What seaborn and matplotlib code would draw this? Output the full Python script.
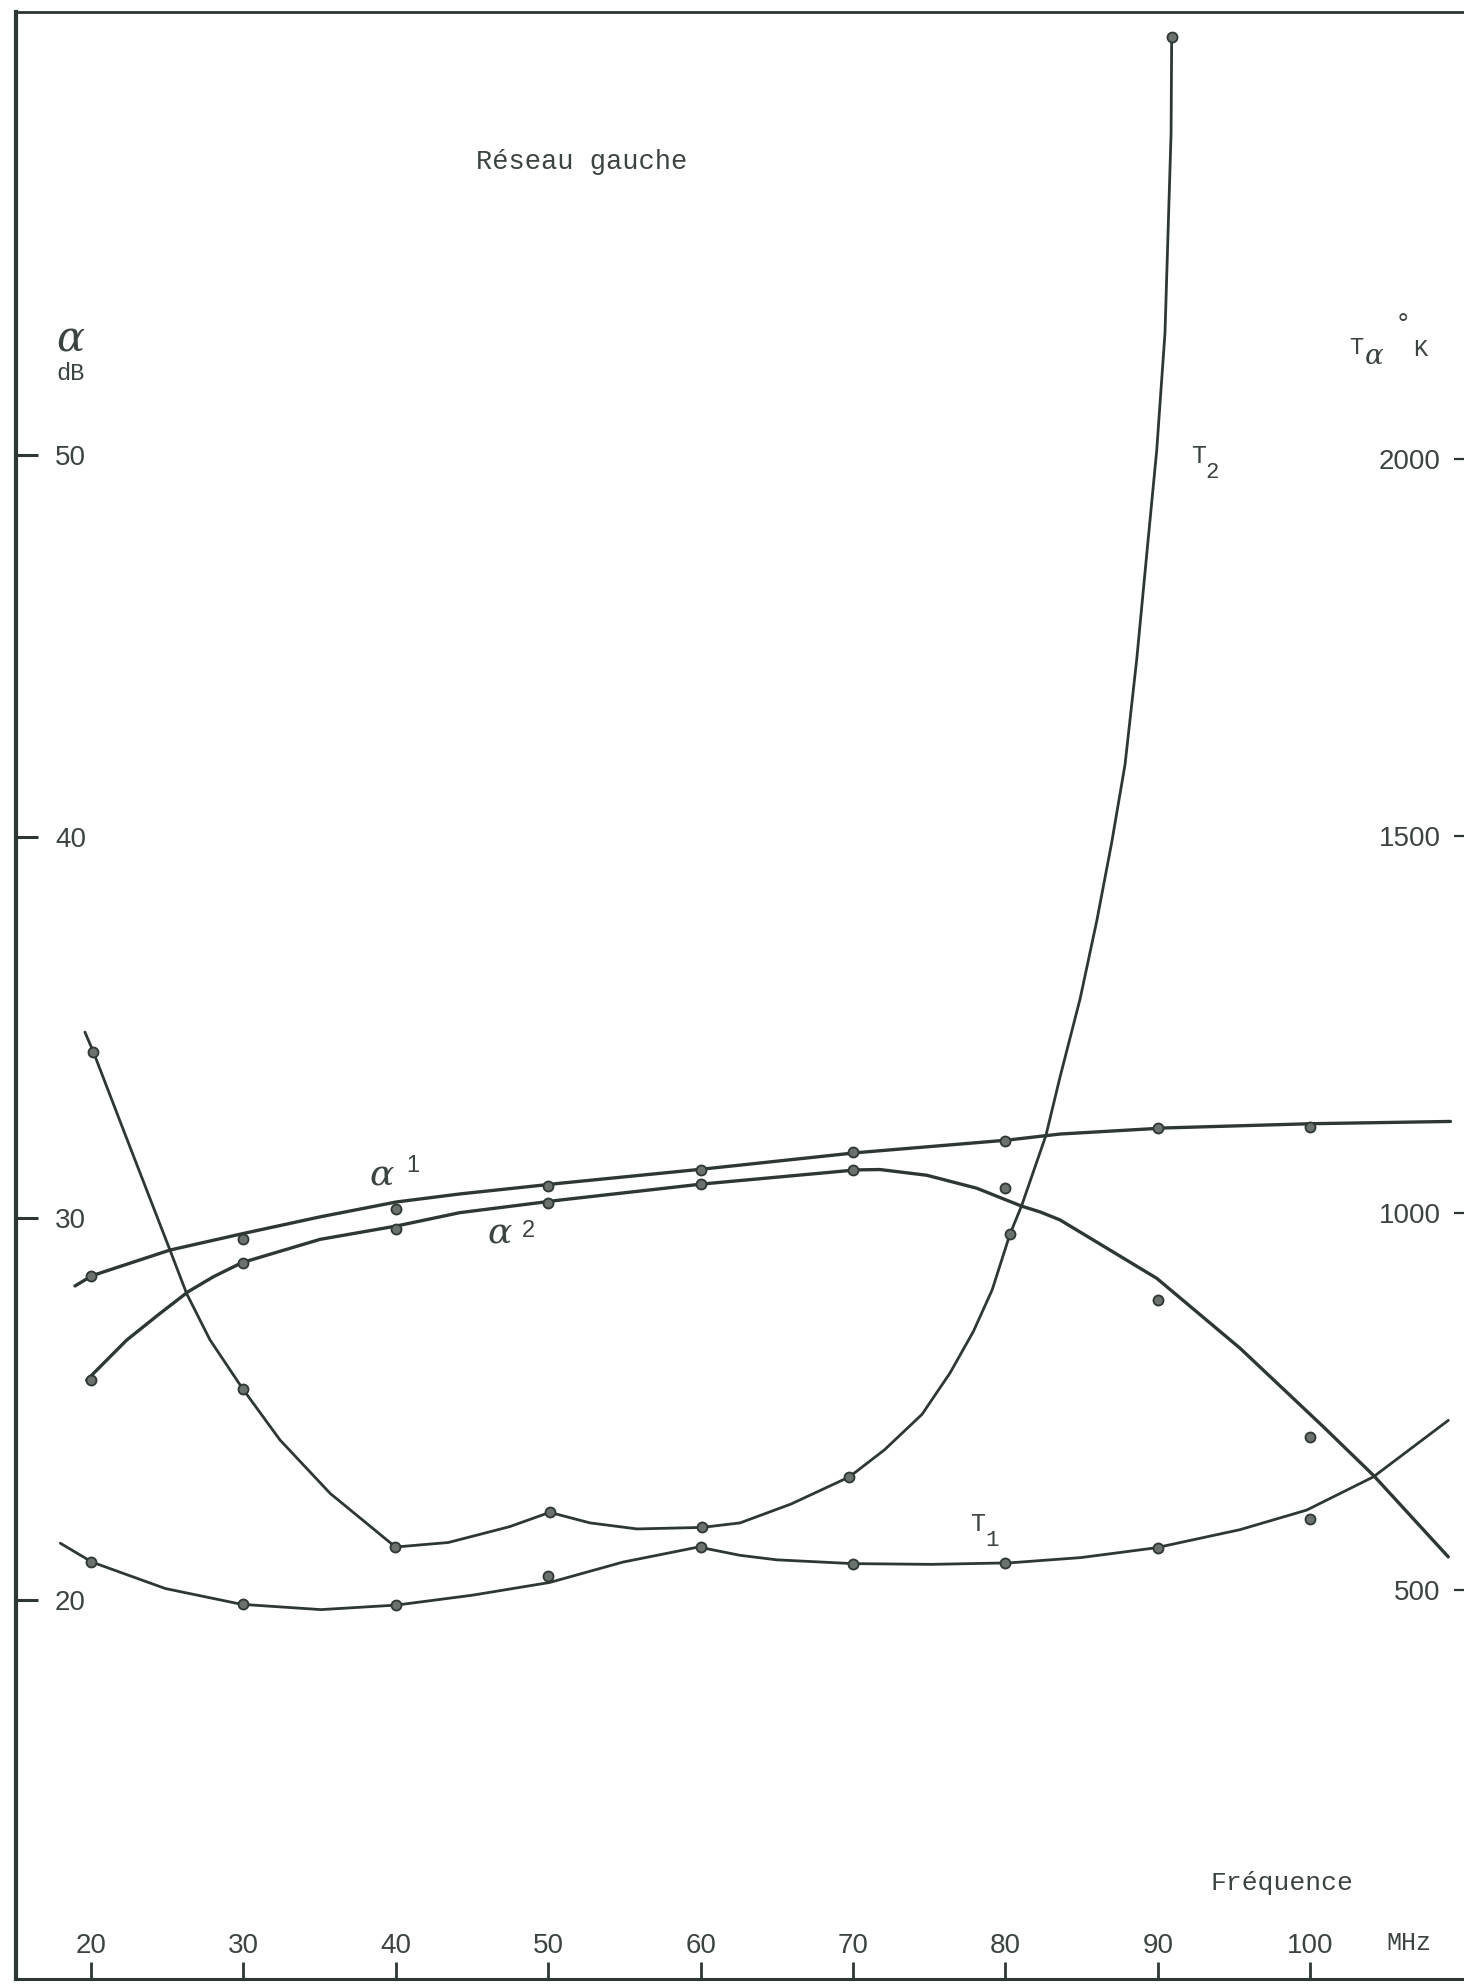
import matplotlib
matplotlib.use('Agg')
import matplotlib.pyplot as plt
import seaborn as sns
import pandas as pd

# mesures (points) - frequence en MHz
freq = [20, 30, 40, 50, 60, 70, 80, 90, 100]
alpha1_db = [28.5, 29.46, 30.24, 30.85, 31.27, 31.73, 32.03, 32.37, 32.39]
alpha2_db = [25.76, 28.84, 29.71, 30.4, 30.9, 31.27, 30.8, 27.86, 24.26]
t1_k = [537, 481, 480, 518, 557, 535, 536, 556, 594]
t2_freq = [20.15, 29.95, 39.98, 50.1, 60.1, 69.76, 80.3, 90.91]
t2_k = [1214, 767, 557, 603, 583, 650, 972, 2560]

# courbes tracees a la main
a1_curve_f = [18.95, 20.08, 25.18, 29.95, 35.03, 40.04, 44.2, 50.77, 60.1, 70.2, 80.1, 83.58, 90.5, 100.0, 109.2]
a1_curve_db = [28.23, 28.5, 29.17, 29.6, 30.04, 30.43, 30.64, 30.92, 31.29, 31.72, 32.05, 32.21, 32.37, 32.48, 32.54]

a2_curve_f = [19.72, 22.34, 24.53, 26.38, 28.03, 29.9, 35.03, 40.04, 44.2, 50.77, 60.1, 70.2, 71.77,
              74.84, 78.12, 81.07, 82.27, 83.58, 89.93, 95.39, 100.86, 104.14, 109.06]
a2_curve_db = [25.76, 26.81, 27.51, 28.08, 28.47, 28.84, 29.45, 29.8, 30.15, 30.48, 30.9, 31.27, 31.28,
               31.13, 30.79, 30.32, 30.17, 29.96, 28.43, 26.6, 24.54, 23.27, 21.13]

t1_curve_f = [17.99, 20.07, 24.87, 29.88, 35.09, 40.04, 44.99, 50.1, 54.9, 59.86, 62.59, 65.0, 69.98,
              75.14, 80.27, 84.96, 89.88, 95.39, 99.77, 104.14, 109.06]
t1_curve_k = [562, 537, 502, 481, 474, 480, 493, 510, 537, 557, 546, 540, 535,
              534, 536, 543, 556, 580, 606, 650, 725]

t2_curve_f = [19.6, 20.15, 22.34, 25.18, 26.28, 27.8, 29.95, 32.4, 35.7, 39.98, 43.45, 47.47, 50.1,
              52.74, 55.83, 60.1, 62.59, 65.93, 69.76, 72.07, 74.53, 76.37, 77.9, 79.13, 80.3, 81.07,
              82.66, 83.58, 84.9, 86.0, 86.98, 87.85, 88.62, 89.27, 89.93, 90.47, 90.87, 90.91]
t2_curve_k = [1240, 1214, 1099, 951, 893, 832, 767, 699, 628, 557, 563, 584, 603,
              589, 581, 583, 589, 614, 650, 686, 733, 788, 843, 898, 972, 1010,
              1103, 1180, 1284, 1388, 1492, 1595, 1735, 1873, 2012, 2167, 2432, 2560]

db_ticks = [20, 30, 40, 50]
k_ticks = [500, 1000, 1500, 2000]

sns.set_style('white')
plt.rcParams['font.family'] = ['Liberation Sans', 'DejaVu Sans']

ink = '#2e3833'
txt = '#3c4440'
W, H = 1464, 1984

fig = plt.figure(figsize=(W / 100, H / 100), dpi=100)
fig.patch.set_facecolor('white')
ax = fig.add_axes([16 / W, 5 / H, 1448 / W, 1967 / H])
ax2 = ax.twinx()

# courbes alpha (dB, axe gauche)
sns.lineplot(x=a1_curve_f, y=a1_curve_db, ax=ax, color=ink, linewidth=2.4, sort=False, estimator=None, legend=False)
sns.lineplot(x=a2_curve_f, y=a2_curve_db, ax=ax, color=ink, linewidth=2.4, sort=False, estimator=None, legend=False)
pts = dict(color='#6b716d', edgecolor=ink, linewidth=1.3, s=52, zorder=5, legend=False)
sns.scatterplot(x=freq, y=alpha1_db, ax=ax, **pts)
sns.scatterplot(x=freq, y=alpha2_db, ax=ax, **pts)

# courbes T (degres K, axe droit)
sns.lineplot(x=t1_curve_f, y=t1_curve_k, ax=ax2, color=ink, linewidth=2.0, sort=False, estimator=None, legend=False)
sns.lineplot(x=t2_curve_f, y=t2_curve_k, ax=ax2, color=ink, linewidth=2.0, sort=False, estimator=None, legend=False)
sns.scatterplot(x=freq, y=t1_k, ax=ax2, **pts)
sns.scatterplot(x=t2_freq, y=t2_k, ax=ax2, **pts)

ax.set_xlim(15.08, 110.09)
ax.set_ylim(10.07, 61.61)
ax2.set_ylim(-15.9, 2592.8)

# axes et graduations
for s in ['left', 'top', 'bottom']:
    ax.spines[s].set_visible(True)
    ax.spines[s].set_color(ink)
ax.spines['left'].set_linewidth(3.0)
ax.spines['top'].set_linewidth(2.0)
ax.spines['bottom'].set_linewidth(2.2)
ax.spines['right'].set_visible(False)
for s in ax2.spines.values():
    s.set_visible(False)

ax.set_xticks(freq)
ax.set_xticklabels([str(f) for f in freq])
ax.tick_params(axis='x', direction='in', length=12, width=2, color=ink, pad=-14.5,
               labelsize=20, labelcolor=txt, bottom=True)
for lab in ax.get_xticklabels():
    lab.set_verticalalignment('bottom')

ax.set_yticks(db_ticks)
ax.set_yticklabels([str(v) for v in db_ticks])
ax.tick_params(axis='y', direction='in', length=16, width=2.2, color=ink, pad=-28,
               labelsize=20, labelcolor=txt, left=True)
for lab in ax.get_yticklabels():
    lab.set_horizontalalignment('left')

ax2.set_yticks(k_ticks)
ax2.set_yticklabels([str(v) for v in k_ticks])
ax2.tick_params(axis='y', direction='in', length=7, width=1.6, color=ink, pad=-17,
                labelsize=20, labelcolor=txt, right=True)
for lab in ax2.get_yticklabels():
    lab.set_horizontalalignment('right')

ax.set_xlabel('')
ax.set_ylabel('')
ax2.set_ylabel('')


def put(px, py, s, **kw):
    fig.text(px / W, 1 - py / H, s, ha='center', va='center', color=txt, **kw)


mono = dict(family=['Liberation Mono', 'DejaVu Sans Mono'])
greek = dict(family=['DejaVu Serif'], style='italic')

put(582, 162, 'Réseau gauche', fontsize=19.5, **mono)
put(70, 339, 'α', fontsize=30, **greek)
put(70, 373, 'dB', fontsize=17, **mono)

put(1356, 347, 'T', fontsize=17, **mono)
put(1374, 356, 'α', fontsize=20, **greek)
put(1403, 325, '°', fontsize=18, family=['DejaVu Sans'])
put(1420, 350, 'K', fontsize=17, **mono)

put(1199, 456, 'T', fontsize=18, **mono)
put(1212, 472, '2', fontsize=16, **mono)
put(978, 1524, 'T', fontsize=18, **mono)
put(992, 1541, '1', fontsize=16, **mono)

put(382, 1175, 'α', fontsize=26, **greek)
put(413, 1166, '1', fontsize=17)
put(500, 1234, 'α', fontsize=26, **greek)
put(528, 1231, '2', fontsize=17)

put(1282, 1883, 'Fréquence', fontsize=19, **mono)
put(1409, 1943, 'MHz', fontsize=18, **mono)

fig.savefig('out.png', dpi=100, facecolor='white')
